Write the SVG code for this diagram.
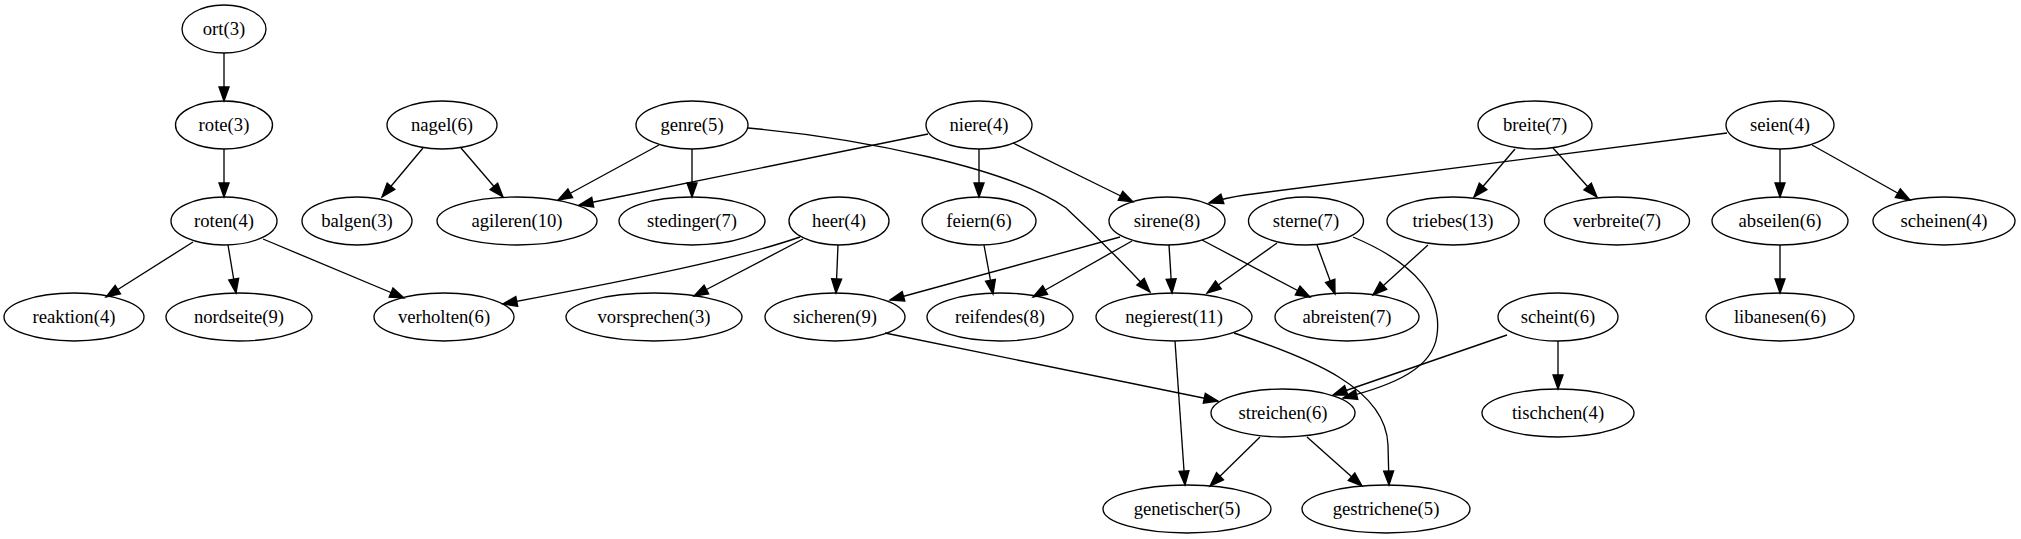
<svg xmlns="http://www.w3.org/2000/svg" width="2021" height="539" viewBox="0 0 2021 539">
<style>
.n ellipse{fill:none;stroke:#000;stroke-width:1.33}
.n text{font-family:"Liberation Serif","Times New Roman",serif;font-size:18.67px;text-anchor:middle;fill:#000}
.e path{fill:none;stroke:#000;stroke-width:1.33;marker-end:url(#ah)}
</style>
<defs>
<marker id="ah" markerUnits="userSpaceOnUse" markerWidth="16" markerHeight="12" refX="14" refY="5" orient="auto" overflow="visible">
<path d="M0,0 L14,5 L0,10 z" fill="#000" stroke="#000" stroke-width="1.33"/>
</marker>
</defs>
<rect width="2021" height="539" fill="#fff"/>
<g id="edges" class="e">
<path d="M224,53 L224,101"/>
<path d="M224,149 L224,197"/>
<path d="M193,242 L106,297"/>
<path d="M228,245 L236,293"/>
<path d="M263,239 L404,298"/>
<path d="M423,148 L382,197"/>
<path d="M461,148 L503,197"/>
<path d="M659,145 L558,200"/>
<path d="M692,149 L692,197"/>
<path d="M748,128 C860,138 1010,168 1066,208 C1095,235 1125,265 1150,292"/>
<path d="M928,134 L579,205"/>
<path d="M979,149 L979,197"/>
<path d="M1013,143 L1133,202"/>
<path d="M800,237 C740,258 640,278 503,304"/>
<path d="M803,239 L694,296"/>
<path d="M838,245 L836,293"/>
<path d="M984,245 L993,294"/>
<path d="M1120,237 L890,300"/>
<path d="M1132,241 L1033,297"/>
<path d="M1169,245 L1172,293"/>
<path d="M1202,240 L1310,297"/>
<path d="M1277,243 L1207,293"/>
<path d="M1317,245 L1335,294"/>
<path d="M1353,237 C1420,265 1442,300 1437,335 C1433,368 1395,385 1343,398"/>
<path d="M1428,245 L1373,295"/>
<path d="M1515,149 L1474,197"/>
<path d="M1553,148 L1597,197"/>
<path d="M1727,133 L1245,195 Q1225,198 1209,203"/>
<path d="M1780,149 L1780,197"/>
<path d="M1812,145 L1910,200"/>
<path d="M1780,245 L1780,293"/>
<path d="M1507,335 L1333,395"/>
<path d="M1558,341 L1558,389"/>
<path d="M885,333 L1218,401"/>
<path d="M1175,341 L1185,485"/>
<path d="M1234,333 C1310,358 1386,388 1388,445 L1389,485"/>
<path d="M1260,437 L1210,486"/>
<path d="M1307,437 L1362,486"/>
</g>
<g id="ort" class="n"><ellipse cx="224" cy="29" rx="42" ry="24"/><text x="224" y="35">ort(3)</text></g>
<g id="rote" class="n"><ellipse cx="224" cy="125" rx="48.5" ry="24"/><text x="224" y="131">rote(3)</text></g>
<g id="nagel" class="n"><ellipse cx="442" cy="125" rx="55" ry="24"/><text x="442" y="131">nagel(6)</text></g>
<g id="genre" class="n"><ellipse cx="692" cy="125" rx="56" ry="24"/><text x="692" y="131">genre(5)</text></g>
<g id="niere" class="n"><ellipse cx="979" cy="125" rx="53" ry="24"/><text x="979" y="131">niere(4)</text></g>
<g id="breite" class="n"><ellipse cx="1535" cy="125" rx="57" ry="24"/><text x="1535" y="131">breite(7)</text></g>
<g id="seien" class="n"><ellipse cx="1780" cy="125" rx="54" ry="24"/><text x="1780" y="131">seien(4)</text></g>
<g id="roten" class="n"><ellipse cx="224" cy="221" rx="53" ry="24"/><text x="224" y="227">roten(4)</text></g>
<g id="balgen" class="n"><ellipse cx="357" cy="221" rx="55" ry="24"/><text x="357" y="227">balgen(3)</text></g>
<g id="agileren" class="n"><ellipse cx="517" cy="221" rx="80" ry="24"/><text x="517" y="227">agileren(10)</text></g>
<g id="stedinger" class="n"><ellipse cx="692" cy="221" rx="73" ry="24"/><text x="692" y="227">stedinger(7)</text></g>
<g id="heer" class="n"><ellipse cx="839" cy="221" rx="50" ry="24"/><text x="839" y="227">heer(4)</text></g>
<g id="feiern" class="n"><ellipse cx="979" cy="221" rx="57" ry="24"/><text x="979" y="227">feiern(6)</text></g>
<g id="sirene" class="n"><ellipse cx="1167" cy="221" rx="58" ry="24"/><text x="1167" y="227">sirene(8)</text></g>
<g id="sterne" class="n"><ellipse cx="1306" cy="221" rx="57.5" ry="24"/><text x="1306" y="227">sterne(7)</text></g>
<g id="triebes" class="n"><ellipse cx="1453" cy="221" rx="66" ry="24"/><text x="1453" y="227">triebes(13)</text></g>
<g id="verbreite" class="n"><ellipse cx="1617" cy="221" rx="72.5" ry="24"/><text x="1617" y="227">verbreite(7)</text></g>
<g id="abseilen" class="n"><ellipse cx="1780" cy="221" rx="68" ry="24"/><text x="1780" y="227">abseilen(6)</text></g>
<g id="scheinen" class="n"><ellipse cx="1944" cy="221" rx="71" ry="24"/><text x="1944" y="227">scheinen(4)</text></g>
<g id="reaktion" class="n"><ellipse cx="74" cy="317" rx="70" ry="24"/><text x="74" y="323">reaktion(4)</text></g>
<g id="nordseite" class="n"><ellipse cx="239" cy="317" rx="73" ry="24"/><text x="239" y="323">nordseite(9)</text></g>
<g id="verholten" class="n"><ellipse cx="444" cy="317" rx="70" ry="24"/><text x="444" y="323">verholten(6)</text></g>
<g id="vorsprechen" class="n"><ellipse cx="654" cy="317" rx="88" ry="24"/><text x="654" y="323">vorsprechen(3)</text></g>
<g id="sicheren" class="n"><ellipse cx="835" cy="317" rx="70" ry="24"/><text x="835" y="323">sicheren(9)</text></g>
<g id="reifendes" class="n"><ellipse cx="1000" cy="317" rx="73" ry="24"/><text x="1000" y="323">reifendes(8)</text></g>
<g id="negierest" class="n"><ellipse cx="1174" cy="317" rx="78" ry="24"/><text x="1174" y="323">negierest(11)</text></g>
<g id="abreisten" class="n"><ellipse cx="1347" cy="317" rx="72" ry="24"/><text x="1347" y="323">abreisten(7)</text></g>
<g id="scheint" class="n"><ellipse cx="1558" cy="317" rx="60" ry="24"/><text x="1558" y="323">scheint(6)</text></g>
<g id="libanesen" class="n"><ellipse cx="1780" cy="317" rx="74" ry="24"/><text x="1780" y="323">libanesen(6)</text></g>
<g id="streichen" class="n"><ellipse cx="1283" cy="413" rx="72" ry="24"/><text x="1283" y="419">streichen(6)</text></g>
<g id="tischchen" class="n"><ellipse cx="1558" cy="413" rx="76" ry="24"/><text x="1558" y="419">tischchen(4)</text></g>
<g id="genetischer" class="n"><ellipse cx="1187" cy="509" rx="84" ry="24"/><text x="1187" y="515">genetischer(5)</text></g>
<g id="gestrichene" class="n"><ellipse cx="1386" cy="509" rx="84" ry="24"/><text x="1386" y="515">gestrichene(5)</text></g>
</svg>
